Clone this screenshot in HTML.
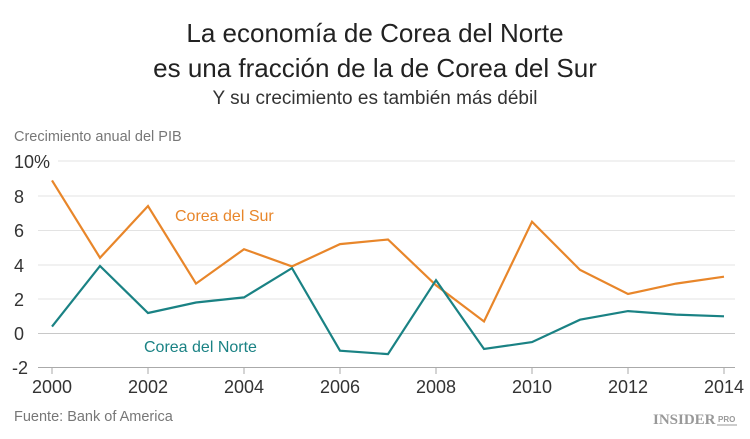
<!DOCTYPE html>
<html><head><meta charset="utf-8"><style>
body{margin:0;background:#fff;}
svg{display:block;font-family:"Liberation Sans",sans-serif;}
</style></head><body>
<svg width="750" height="439" viewBox="0 0 750 439">
<text x="375" y="42" font-size="26" fill="#222" text-anchor="middle">La economía de Corea del Norte</text>
<text x="375" y="77" font-size="26" fill="#222" text-anchor="middle">es una fracción de la de Corea del Sur</text>
<text x="375" y="104" font-size="19" fill="#333" text-anchor="middle">Y su crecimiento es también más débil</text>
<text x="14" y="141" font-size="14.5" fill="#777">Crecimiento anual del PIB</text>
<g stroke="#e3e3e3" stroke-width="1">
<line x1="58" x2="735" y1="161" y2="161"/>
<line x1="38" x2="735" y1="196" y2="196"/>
<line x1="38" x2="735" y1="230.5" y2="230.5"/>
<line x1="38" x2="735" y1="265" y2="265"/>
<line x1="38" x2="735" y1="299" y2="299"/>
</g>
<line x1="38" x2="735" y1="333.5" y2="333.5" stroke="#c8c8c8"/>
<line x1="38" x2="735" y1="367.5" y2="367.5" stroke="#aaa"/>
<g stroke="#aaa"><line x1="52" x2="52" y1="368" y2="374"/><line x1="148" x2="148" y1="368" y2="374"/><line x1="244" x2="244" y1="368" y2="374"/><line x1="340" x2="340" y1="368" y2="374"/><line x1="436" x2="436" y1="368" y2="374"/><line x1="532" x2="532" y1="368" y2="374"/><line x1="628" x2="628" y1="368" y2="374"/><line x1="724" x2="724" y1="368" y2="374"/></g>
<g font-size="18" fill="#333">
<text x="14" y="168">10%</text>
<text x="14" y="203">8</text>
<text x="14" y="237">6</text>
<text x="14" y="272">4</text>
<text x="14" y="306">2</text>
<text x="14" y="340">0</text>
<text x="12" y="374">-2</text>
</g>
<g font-size="18" fill="#333" text-anchor="middle">
<text x="52" y="393">2000</text><text x="148" y="393">2002</text><text x="244" y="393">2004</text><text x="340" y="393">2006</text><text x="436" y="393">2008</text><text x="532" y="393">2010</text><text x="628" y="393">2012</text><text x="724" y="393">2014</text>
</g>
<polyline fill="none" stroke="#e8862a" stroke-width="2.2" points="52,180.4 100,257.8 148,206 196,283.6 244,249.2 292,266.4 340,244.1 388,239.5 436,285.3 484,321.5 532,221.7 580,269.9 628,294 676,283.6 724,276.7"/>
<polyline fill="none" stroke="#1a8284" stroke-width="2.2" points="52,326.6 100,266 148,313 196,302.5 244,297.4 292,268.1 340,350.7 388,354.1 436,280.2 484,349 532,342.1 580,319.7 628,311.1 676,314.6 724,316.3"/>
<text x="175" y="221" font-size="16" fill="#e8862a">Corea del Sur</text>
<text x="144" y="352" font-size="16" fill="#1a8284">Corea del Norte</text>
<text x="14" y="421" font-size="14.5" fill="#777">Fuente: Bank of America</text>
<text x="653" y="424" font-size="15" font-weight="bold" fill="#999" font-family="Liberation Serif,serif">INSIDER</text>
<text x="718" y="422" font-size="8" font-weight="bold" fill="#999">PRO</text>
<line x1="717" x2="737" y1="425" y2="425" stroke="#999"/>
</svg>
</body></html>
